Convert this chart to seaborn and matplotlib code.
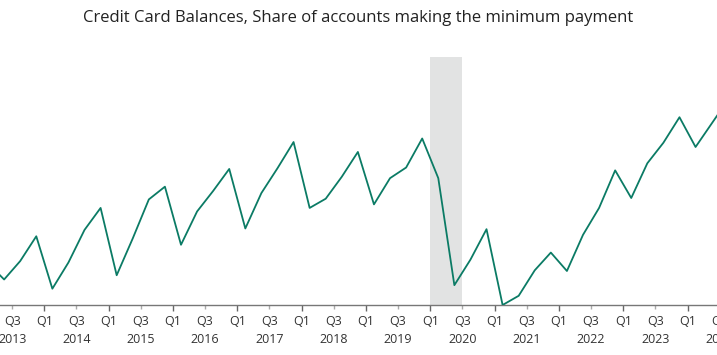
import matplotlib
matplotlib.use("Agg")
import matplotlib.pyplot as plt
import seaborn as sns
import pandas as pd
import numpy as np

# ---- data ----
years = list(range(2013, 2025))
quarters = [f"{y} Q{q}" for y in range(2013, 2025) for q in range(1, 5)][:47]
share_min_payment = [
    8.59, 8.36, 8.62, 8.97,   # 2013
    8.23, 8.60, 9.06, 9.37,   # 2014
    8.42, 8.94, 9.49, 9.67,   # 2015
    8.85, 9.32, 9.61, 9.92,   # 2016
    9.08, 9.58, 9.93, 10.30,  # 2017
    9.37, 9.50, 9.81, 10.16,  # 2018
    9.42, 9.79, 9.94, 10.35,  # 2019
    9.79, 8.28, 8.64, 9.07,   # 2020
    8.00, 8.13, 8.49, 8.74,   # 2021
    8.48, 8.99, 9.37, 9.90,   # 2022
    9.51, 10.00, 10.29, 10.65,  # 2023
    10.23, 10.56, 10.89,      # 2024
]
recession_start = "2020 Q1"
recession_end = "2020 Q2"
title = "Credit Card Balances, Share of accounts making the minimum payment"

# ---- build frame ----
df = pd.DataFrame({"quarter": quarters, "share": share_min_payment})
df["idx"] = np.arange(len(df))
df["pos"] = df["idx"] + 0.5   # plotted at mid-quarter

sns.set_theme(style="white")
plt.rcParams["font.family"] = ["Open Sans", "DejaVu Sans"]

fig = plt.figure(figsize=(7.17, 3.55), dpi=100)
ax = fig.add_axes([0, 50/355, 1, 248/355])

rs = quarters.index(recession_start)
re_ = quarters.index(recession_end) + 1
ax.axvspan(rs, re_, color="#e2e3e3", lw=0, zorder=0)

sns.lineplot(data=df, x="pos", y="share", color="#0b7b65", lw=1.3, ax=ax, zorder=3)

# two-level x axis
all_q = [f"{y} Q{q}" for y in years for q in range(1, 5)]
q1_pos = [all_q.index(f"{y} Q1") for y in years]
q3_pos = [all_q.index(f"{y} Q3") for y in years]
ax.set_xticks(q1_pos)
ax.set_xticklabels(["Q1"] * len(q1_pos))
ax.set_xticks(q3_pos, minor=True)
ax.set_xticklabels(["Q3"] * len(q3_pos), minor=True)
ax.tick_params(axis="x", which="major", length=4, width=1, color="#666666",
               labelsize=9, labelcolor="#333333", pad=3.5, bottom=True)
ax.tick_params(axis="x", which="minor", length=3, width=1, color="#aaaaaa",
               labelsize=9, labelcolor="#333333", pad=4.5, bottom=True)

sec = ax.secondary_xaxis("bottom")
sec.set_xticks(q3_pos)
sec.set_xticklabels([str(y) for y in years])
sec.tick_params(axis="x", length=0, labelsize=9, labelcolor="#333333", pad=20.5)
sec.spines["bottom"].set_visible(False)

ax.set_xlim(20/16.08, 737/16.08)
ax.set_ylim(8.0, 11.5)

# labels of the last (partly cut) tick at the right edge
last_q3 = q3_pos[-1]
ax.annotate("Q3", xy=(last_q3, 0), xycoords=("data", "axes fraction"),
            xytext=(0, -7.5), textcoords="offset points", ha="center", va="top",
            fontsize=9, color="#333333", annotation_clip=False)
ax.annotate(str(years[-1]), xy=(last_q3, 0), xycoords=("data", "axes fraction"),
            xytext=(0, -20.5), textcoords="offset points", ha="center", va="top",
            fontsize=9, color="#333333", annotation_clip=False)

ax.set_yticks([])
ax.set_xlabel("")
ax.set_ylabel("")
for s in ["left", "right", "top"]:
    ax.spines[s].set_visible(False)
ax.spines["bottom"].set_color("#777777")
ax.spines["bottom"].set_linewidth(1)

fig.text(0.5, 1 - 18/355, title, ha="center", va="center", fontsize=12, color="#222222")

fig.savefig("out.png", dpi=100)
